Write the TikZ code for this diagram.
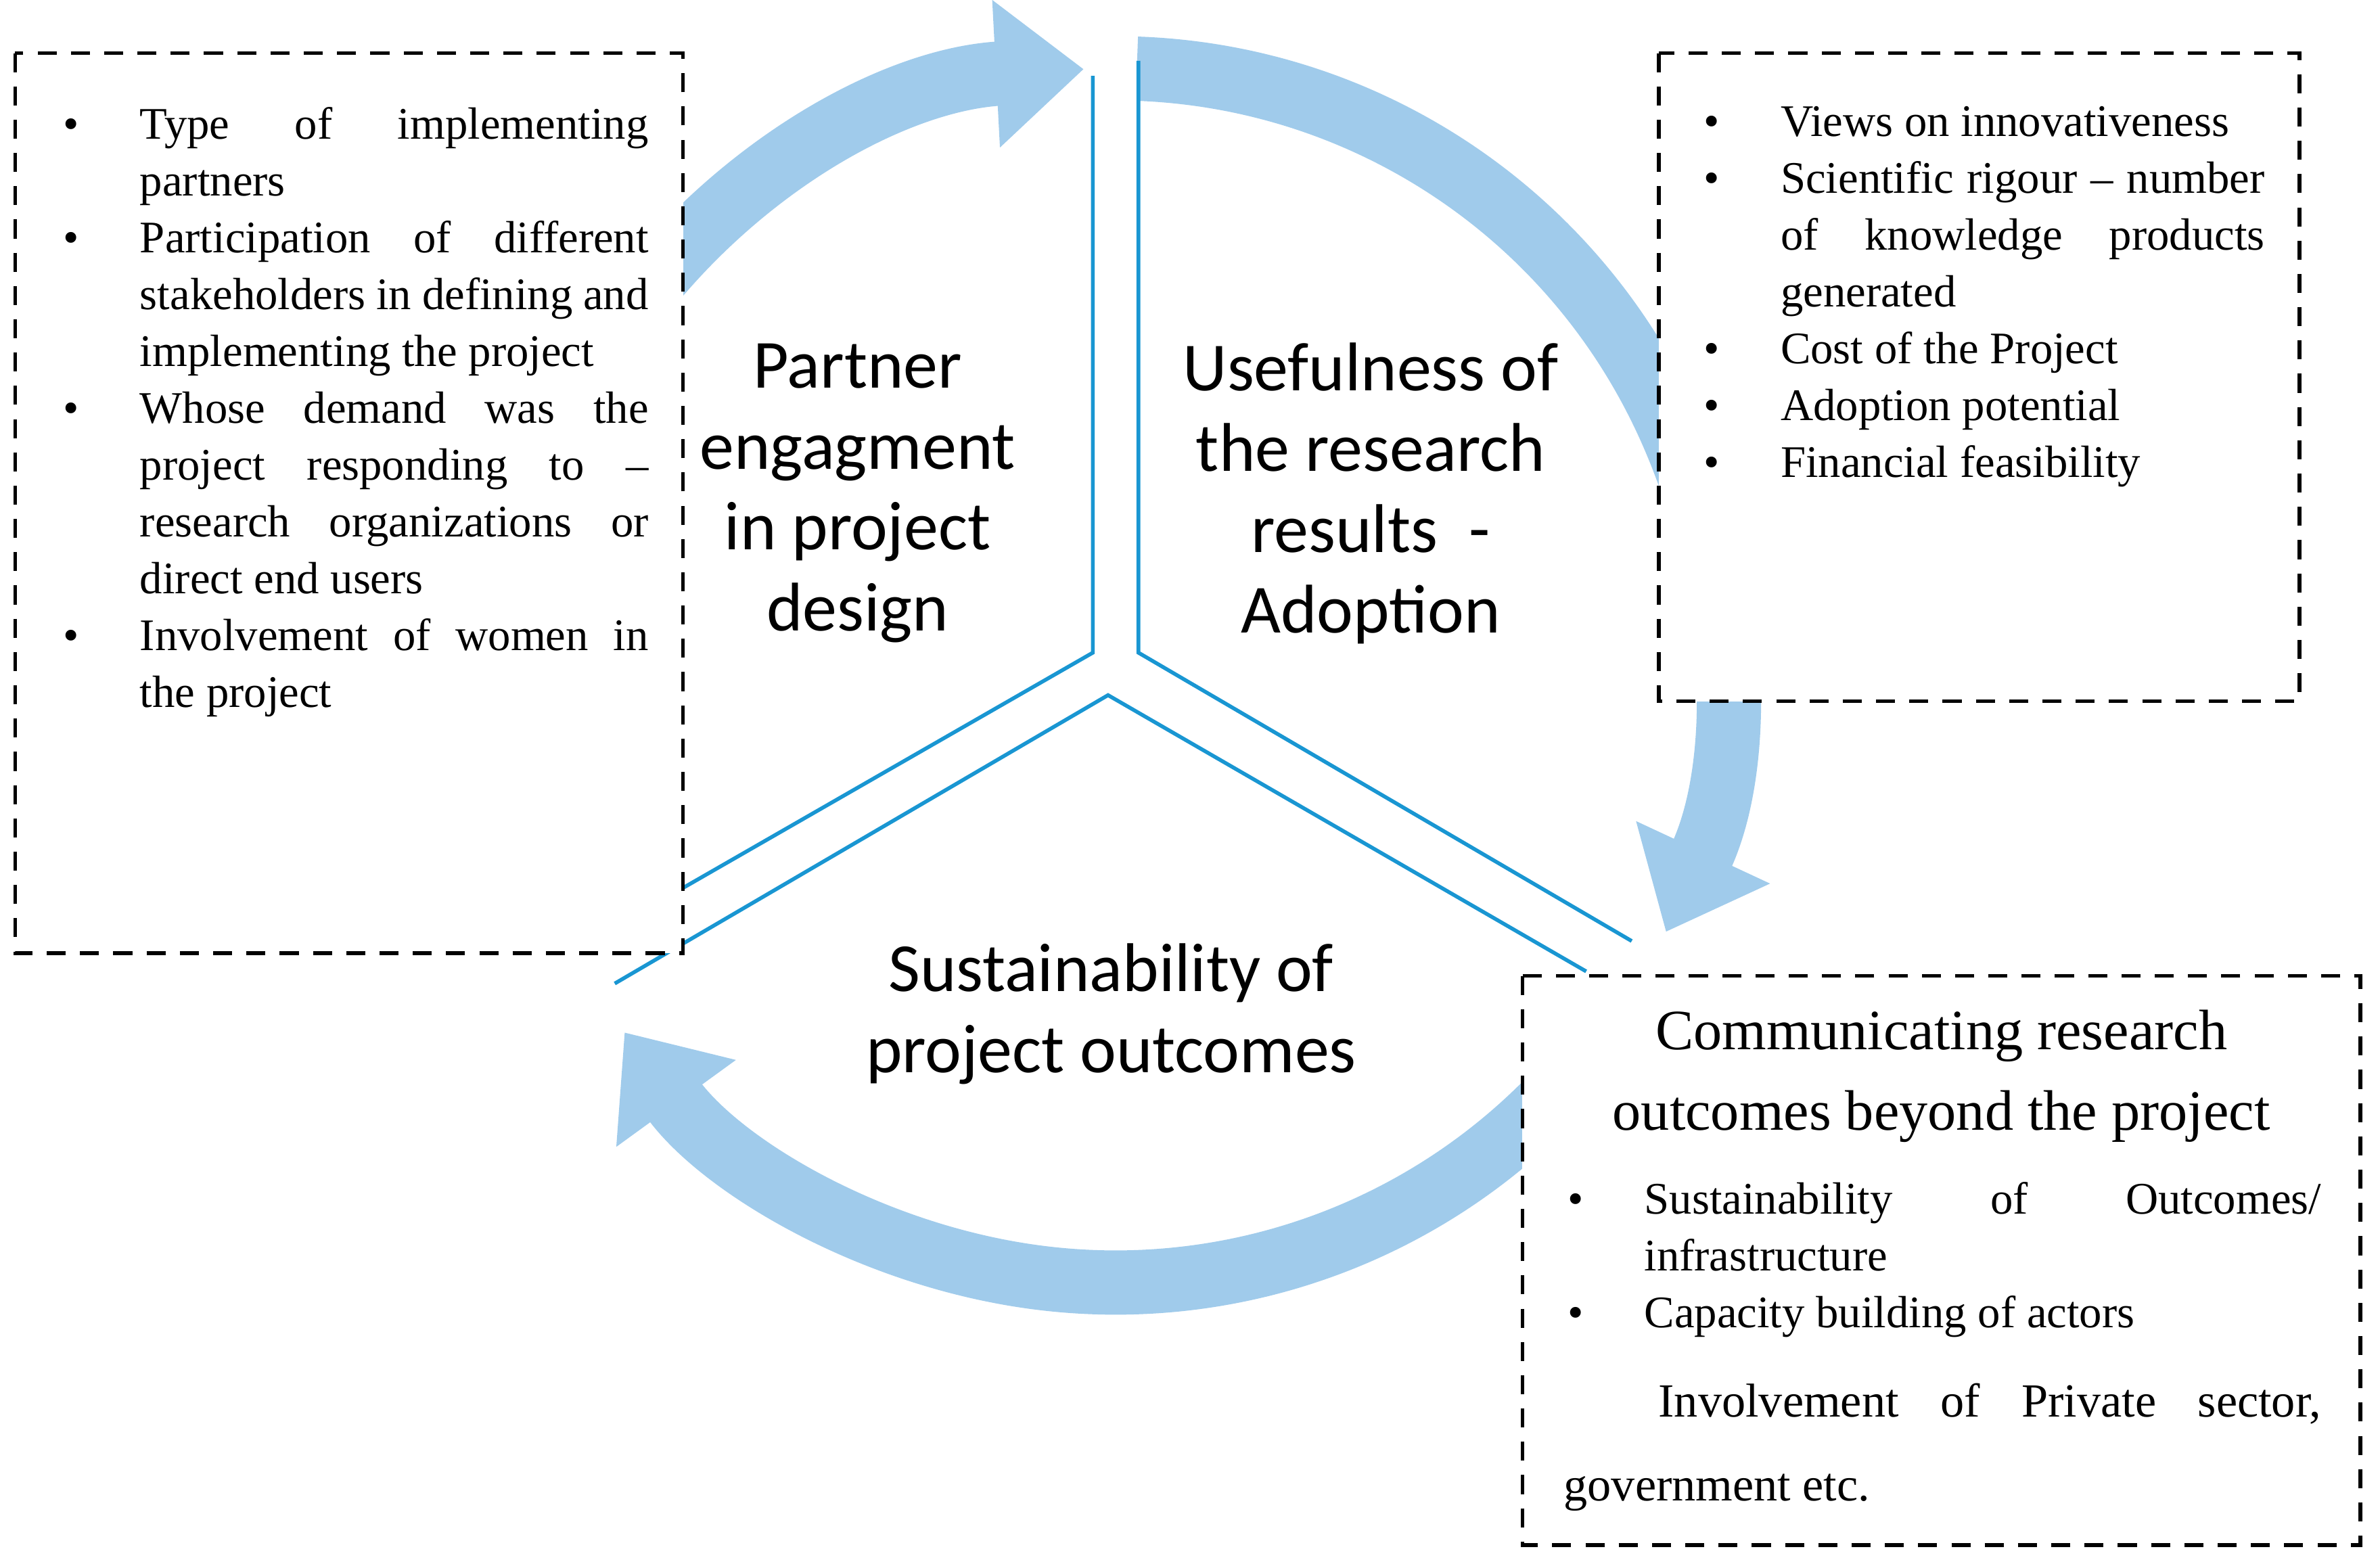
\documentclass[tikz,border=0pt]{standalone}
\usepackage{fontspec}
\setmainfont{Liberation Serif}
\newfontfamily\carl{Carlito}
\usepackage{enumitem}
\usetikzlibrary{arrows.meta}
\hyphenpenalty=10000
\exhyphenpenalty=10000
\emergencystretch=3em
\definecolor{arr}{RGB}{160,203,235}
\definecolor{yl}{RGB}{25,150,210}
\tikzset{
  flow/.style={draw=arr,line width=0.95cm,-{Triangle[width=2.1cm,length=1.3cm]}},
  ybar/.style={draw=yl,line width=1.6pt},
  dbox/.style={draw,dashed,line width=1.6pt,dash pattern=on 8pt off 6pt},
  lst/.style={anchor=north west,inner sep=0pt,align=justify,font=\fontsize{19}{23.9}\selectfont},
  big/.style={font=\carl\fontsize{29}{34}\selectfont,align=center}
}
\begin{document}
\begin{tikzpicture}[x=0.02244cm,y=-0.02244cm]
\useasboundingbox (0,0) rectangle (1568,1029);
\coordinate (c) at (735,445);
% arrows
\draw[flow] (c) ++(-150:400) arc[start angle=-150,end angle=-93,radius=400];
\draw[flow] (c) ++(-88:400) arc[start angle=-88,end angle=25,radius=400];
\draw[flow] (c) ++(38:400) arc[start angle=38,end angle=144,radius=400];
% Y divider
\coordinate (a1) at (720,50); \coordinate (a2) at (720,430);
\coordinate (b1) at (750,40); \coordinate (b2) at (750,430);
\coordinate (m) at (730,458);
\coordinate (l1) at (450,585); \coordinate (l2) at (405,648);
\coordinate (r1) at (1075,620); \coordinate (r2) at (1045,640);
\fill[white] (a1)--(b1)--(b2)--(r1)--(r2)--(m)--(l2)--(l1)--(a2)--cycle;
\draw[ybar] (a1)--(a2)--(l1);
\draw[ybar] (b1)--(b2)--(r1);
\draw[ybar] (l2)--(m)--(r2);
% center labels
\node[big] (p) at (565,325) {Partner\\engagment\\in project\\design};
\node[big] (u) at (903,325) {Usefulness of\\the research\\results \ -\\Adoption};
\node[big] (s) at (732,668) {Sustainability of\\project outcomes};
% boxes
\fill[white] (10,35) rectangle (450,628);
\draw[dbox] (10,35) rectangle (450,628);
\fill[white] (1093,35) rectangle (1515,462);
\draw[dbox] (1093,35) rectangle (1515,462);
\fill[white] (1003,643) rectangle (1555,1018);
\draw[dbox] (1003,643) rectangle (1555,1018);
\node[lst,text width=8.91cm] (lt) at (30,54) {%
\begin{itemize}[leftmargin=1.39cm,labelsep=0.9cm,itemsep=0pt,topsep=0pt,parsep=0pt,partopsep=0pt]
\item Type of implementing partners
\item Participation of different stakeholders in defining and implementing the project
\item Whose demand was the project responding to -- research organizations or direct end users
\item Involvement of women in the project
\end{itemize}};
\node[lst,text width=8.57cm] (rt) at (1110,52) {%
\begin{itemize}[leftmargin=1.41cm,labelsep=0.9cm,itemsep=0pt,topsep=0pt,parsep=0pt,partopsep=0pt]
\item Views on innovativeness
\item Scientific rigour -- number of knowledge products generated
\item Cost of the Project
\item Adoption potential
\item Financial feasibility
\end{itemize}};
\node[anchor=north,align=center,font=\fontsize{24}{34}\selectfont,inner sep=0pt] (bt) at (1279,665) {Communicating research\\outcomes beyond the project};
\node[lst,text width=11.2cm] (bl) at (1030,762) {%
\begin{itemize}[leftmargin=1.19cm,labelsep=0.9cm,itemsep=0pt,topsep=0pt,parsep=0pt,partopsep=0pt]
\item Sustainability of Outcomes/ infrastructure
\item Capacity building of actors
\end{itemize}\par\vspace{2pt}
{\fontsize{20}{35.5}\selectfont\hspace*{1.4cm}Involvement of Private sector, government etc.\par}};
\end{tikzpicture}
\end{document}
